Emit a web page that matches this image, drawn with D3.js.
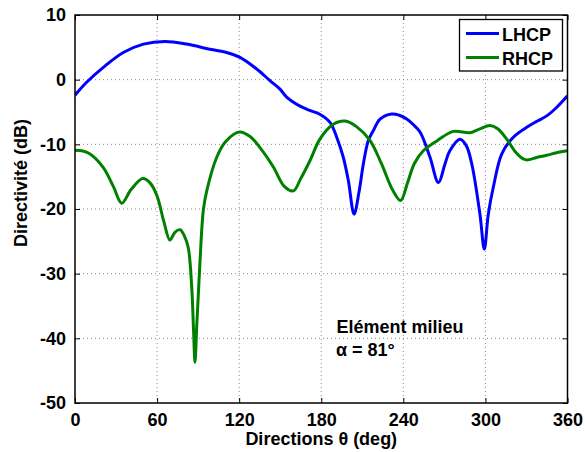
<!DOCTYPE html>
<html>
<head>
<meta charset="utf-8">
<script src="https://cdn.jsdelivr.net/npm/d3@7"></script>
<style>
  body { margin: 0; background: #fff; }
  svg { display: block; font-family: "Liberation Sans", Arial, Helvetica, sans-serif; font-weight: bold; }
</style>
</head>
<body>
<svg id="chart" width="585" height="452"></svg>
<script>
// ---- Data ----
const xTicks = [0, 60, 120, 180, 240, 300, 360];
const yTicks = [10, 0, -10, -20, -30, -40, -50];

const lhcpAngles = [0, 8.5, 20.7, 35.3, 50, 65.8, 81.6, 98.7, 110.9, 120.6, 132.8, 142.5, 150, 154.7, 164.5, 172, 178.6, 186.4, 191.3, 196.1, 199.8, 204, 207.5, 210.8, 214.4, 218, 223, 231.5, 237, 242.5, 247, 252.2, 259.5, 265.6, 270.5, 274, 281.4, 286, 290, 296, 299.2, 302.1, 305.8, 311.9, 320.4, 331.4, 338, 344.8, 352, 360];
const lhcpValues = [-2.4, -0.4, 1.9, 4.2, 5.5, 5.9, 5.5, 4.7, 4.2, 3.45, 1.65, -0.15, -1.5, -2.7, -4.1, -4.8, -5.3, -6.6, -8.9, -12, -15.6, -20.8, -17.5, -13, -9.4, -7.9, -6.1, -5.3, -5.5, -6.1, -6.9, -8.1, -12, -15.9, -13, -11, -9.2, -10.2, -13, -20.8, -26.2, -20.8, -16.6, -11.5, -8.9, -7.2, -6.4, -5.6, -4.3, -2.5];

const rhcpAngles = [0, 5, 11, 20.7, 28, 34.1, 41, 49.5, 55, 60, 65, 69.4, 73, 76.8, 80, 82.8, 85.3, 86.7, 87.7, 89, 90.2, 91.4, 93.8, 96.3, 103.6, 110, 120.1, 128, 135.2, 145, 153, 159.6, 165, 171.8, 179, 188, 197.4, 206, 215.6, 224, 232, 238, 243, 248, 254.6, 265, 276.5, 288.7, 296, 303.4, 309, 315.6, 322, 328, 331.4, 338, 344.8, 352, 360];
const rhcpValues = [-10.9, -11, -11.5, -13.6, -16.5, -19.1, -17, -15.3, -16, -18, -22, -24.8, -23.6, -23.2, -24.2, -26, -32, -39, -43.7, -38, -33, -28, -20.2, -17.2, -12, -9.6, -8.1, -8.8, -10.5, -13.5, -16.5, -17.2, -15.3, -12.5, -9.2, -7, -6.4, -7.3, -9.4, -13, -17, -18.7, -16, -13, -11, -9.4, -8, -8.2, -7.6, -7.1, -7.6, -9.2, -11.2, -12.3, -12.4, -12, -11.7, -11.3, -11];

const seriesNames = ["LHCP", "RHCP"];
const seriesColors = ["#0000ff", "#008000"];

// ---- Layout ----
const svg = d3.select("#chart");
const L = 75, R = 567.5, T = 15, B = 403;

const x = d3.scaleLinear().domain([0, 360]).range([L, R]);
const y = d3.scaleLinear().domain([-50, 10]).range([B, T]);

// grid
const grid = svg.append("g").attr("stroke", "#8c8c8c").attr("stroke-width", 1).attr("stroke-dasharray", "1,3");
xTicks.slice(1, -1).forEach(t => {
  grid.append("line").attr("x1", x(t)).attr("x2", x(t)).attr("y1", T).attr("y2", B);
});
yTicks.slice(1, -1).forEach(t => {
  grid.append("line").attr("y1", y(t)).attr("y2", y(t)).attr("x1", L).attr("x2", R);
});

// lines
const line = d3.line().x(d => x(d[0])).y(d => y(d[1])).curve(d3.curveCatmullRom.alpha(0.5));
const lhcp = lhcpAngles.map((a, i) => [a, lhcpValues[i]]);
const rhcp = rhcpAngles.map((a, i) => [a, rhcpValues[i]]);

const clip = svg.append("clipPath").attr("id", "clip").append("rect")
  .attr("x", L).attr("y", T).attr("width", R - L).attr("height", B - T);

const plot = svg.append("g").attr("clip-path", "url(#clip)");
plot.append("path").datum(lhcp).attr("d", line).attr("fill", "none")
  .attr("stroke", seriesColors[0]).attr("stroke-width", 3).attr("stroke-linejoin", "round");
plot.append("path").datum(rhcp).attr("d", line).attr("fill", "none")
  .attr("stroke", seriesColors[1]).attr("stroke-width", 3).attr("stroke-linejoin", "round");

// axes (MATLAB-style: inward ticks on all sides)
const tickLen = 5;
const axB = d3.axisBottom(x).tickValues(xTicks).tickSize(-tickLen).tickPadding(10).tickFormat(d3.format("d"));
const axT = d3.axisTop(x).tickValues(xTicks).tickSize(-tickLen).tickFormat("");
const axLft = d3.axisLeft(y).tickValues(yTicks).tickSize(-tickLen).tickPadding(9).tickFormat(d => d);
const axRt = d3.axisRight(y).tickValues(yTicks).tickSize(-tickLen).tickFormat("");

function styleAxis(g) {
  g.select(".domain").attr("stroke", "#000").attr("stroke-width", 1.5);
  g.selectAll(".tick line").attr("stroke", "#000").attr("stroke-width", 1);
  g.selectAll(".tick text").attr("fill", "#000").attr("font-size", 18)
    .attr("font-family", "'Liberation Sans', Arial, sans-serif").attr("font-weight", "bold");
}
svg.append("g").attr("transform", `translate(0,${B})`).call(axB).call(styleAxis);
svg.append("g").attr("transform", `translate(0,${T})`).call(axT).call(styleAxis);
svg.append("g").attr("transform", `translate(${L},0)`).call(axLft).call(styleAxis);
svg.append("g").attr("transform", `translate(${R},0)`).call(axRt).call(styleAxis);
svg.selectAll(".domain").attr("d", null);
svg.append("rect").attr("x", L).attr("y", T).attr("width", R - L).attr("height", B - T)
  .attr("fill", "none").attr("stroke", "#000").attr("stroke-width", 1.5);

// axis titles
svg.append("text").attr("x", (L + R) / 2).attr("y", 445).attr("text-anchor", "middle")
  .attr("font-size", 18).text("Directions θ (deg)");
svg.append("text").attr("transform", "translate(27,183) rotate(-90)").attr("text-anchor", "middle")
  .attr("font-size", 18).text("Directivité (dB)");

// legend
const lg = svg.append("g");
lg.append("rect").attr("x", 459.5).attr("y", 19.5).attr("width", 103).attr("height", 51.5)
  .attr("fill", "#fff").attr("stroke", "#000").attr("stroke-width", 1.3);
seriesNames.forEach((n, i) => {
  const yy = 33.5 + i * 24;
  lg.append("line").attr("x1", 466).attr("x2", 499).attr("y1", yy).attr("y2", yy)
    .attr("stroke", seriesColors[i]).attr("stroke-width", 3);
  lg.append("text").attr("x", 502).attr("y", yy + 7).attr("font-size", 18).text(n);
});

// annotation
svg.append("text").attr("x", 336.5).attr("y", 333).attr("font-size", 18).text("Elément milieu");
svg.append("text").attr("x", 336).attr("y", 356).attr("font-size", 18).text("α = 81°");
</script>
</body>
</html>
